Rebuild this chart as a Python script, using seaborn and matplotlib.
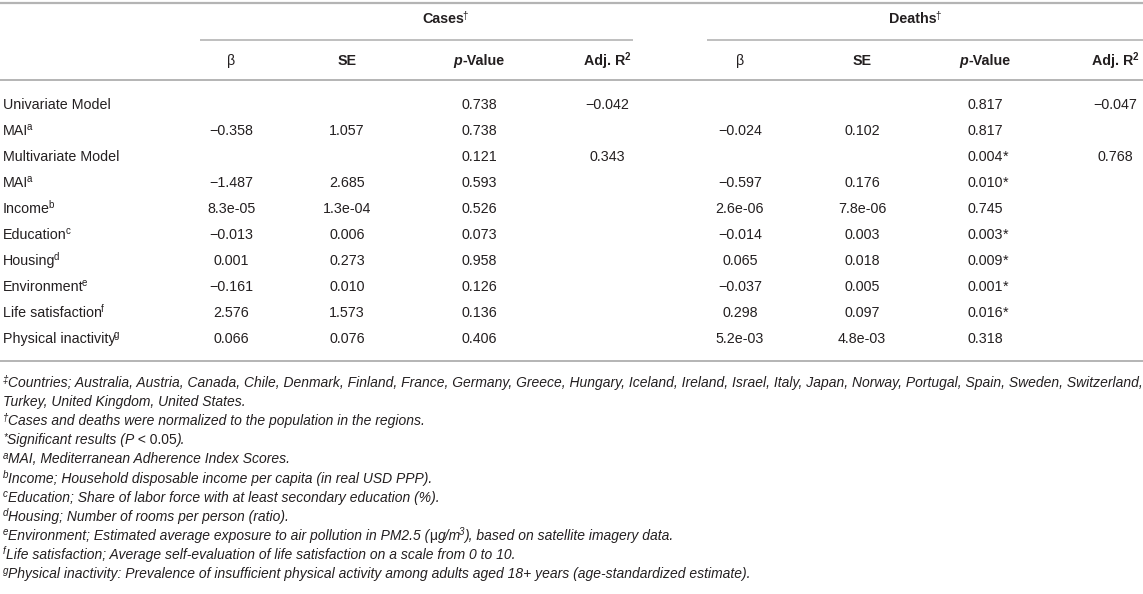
import matplotlib
matplotlib.use("Agg")
import matplotlib.pyplot as plt
import seaborn as sns
from matplotlib.font_manager import FontProperties

# ---------------- data ----------------
row_labels = ["Univariate Model", "MAI", "Multivariate Model", "MAI", "Income",
              "Education", "Housing", "Environment", "Life satisfaction",
              "Physical inactivity"]
row_sups = ["", "a", "", "a", "b", "c", "d", "e", "f", "g"]

cases_beta = ["", "−0.358", "", "−1.487", "8.3e-05", "−0.013", "0.001", "−0.161", "2.576", "0.066"]
cases_se = ["", "1.057", "", "2.685", "1.3e-04", "0.006", "0.273", "0.010", "1.573", "0.076"]
cases_p = ["0.738", "0.738", "0.121", "0.593", "0.526", "0.073", "0.958", "0.126", "0.136", "0.406"]
cases_r2 = ["−0.042", "", "0.343", "", "", "", "", "", "", ""]

deaths_beta = ["", "−0.024", "", "−0.597", "2.6e-06", "−0.014", "0.065", "−0.037", "0.298", "5.2e-03"]
deaths_se = ["", "0.102", "", "0.176", "7.8e-06", "0.003", "0.018", "0.005", "0.097", "4.8e-03"]
deaths_p = ["0.817", "0.817", "0.004*", "0.010*", "0.745", "0.003*", "0.009*", "0.001*", "0.016*", "0.318"]
deaths_r2 = ["−0.047", "", "0.768", "", "", "", "", "", "", ""]

group_titles = ["Cases", "Deaths"]
col_titles = ["β", "SE", "p-Value", "Adj. R2"]

footnotes = [
    [("‡", "sup"), ("Countries; Australia, Austria, Canada, Chile, Denmark, Finland, France, Germany, Greece, Hungary, Iceland, Ireland, Israel, Italy, Japan, Norway, Portugal, Spain, Sweden, Switzerland,", "it")],
    [("Turkey, United Kingdom, United States.", "it")],
    [("†", "sup"), ("Cases and deaths were normalized to the population in the regions.", "it")],
    [("*", "sup"), ("Significant results (", "it"), ("P", "it"), (" < 0.05", "rm"), (").", "it")],
    [("a", "sup"), ("MAI, Mediterranean Adherence Index Scores.", "it")],
    [("b", "sup"), ("Income; Household disposable income per capita (in real USD PPP).", "it")],
    [("c", "sup"), ("Education; Share of labor force with at least secondary education (%).", "it")],
    [("d", "sup"), ("Housing; Number of rooms per person (ratio).", "it")],
    [("e", "sup"), ("Environment; Estimated average exposure to air pollution in PM2.5 (", "it"), ("μ", "rm"), ("g/m", "it"), ("3", "sup"), ("), based on satellite imagery data.", "it")],
    [("f", "sup"), ("Life satisfaction; Average self-evaluation of life satisfaction on a scale from 0 to 10.", "it")],
    [("g", "sup"), ("Physical inactivity: Prevalence of insufficient physical activity among adults aged 18+ years (age-standardized estimate).", "it")],
]

# ---------------- style ----------------
sns.set_theme(style="white")
plt.rcParams["font.family"] = ["Liberation Sans", "DejaVu Sans"]

W, H = 1143, 594
TXT = "#231f20"
RULE = "#b4b4b4"
FS = 10.3
FS_NOTE = 10.0
SUP_FS = 7.0
SUP_DY = -4.5

fig = plt.figure(figsize=(W / 100, H / 100), dpi=100)
ax = fig.add_axes([0, 0, 1, 1])
ax.set_xlim(0, W)
ax.set_ylim(H, 0)
ax.axis("off")
renderer = fig.canvas.get_renderer()


def fp(size=FS, weight="normal", style="normal"):
    return FontProperties(family=["Liberation Sans", "DejaVu Sans"], size=size,
                          weight=weight, style=style)


def text_width(s, prop):
    w1, _, _ = renderer.get_text_width_height_descent("|" + s + "|", prop, False)
    w0, _, _ = renderer.get_text_width_height_descent("||", prop, False)
    return w1 - w0


def draw_runs(x, y, runs, ha="left"):
    """runs: list of (string, FontProperties, dy). Superscripts are tucked in."""
    widths = []
    for k, (s, p, dy) in enumerate(runs):
        w = text_width(s, p)
        if k + 1 < len(runs) and runs[k + 1][2] != 0 and dy == 0:
            w -= 1.5
        widths.append(w)
    total = sum(widths)
    if ha == "center":
        x0 = x - total / 2
    elif ha == "right":
        x0 = x - total
    else:
        x0 = x
    for (s, p, dy), w in zip(runs, widths):
        ax.text(x0, y + dy, s, fontproperties=p, color=TXT, ha="left", va="baseline")
        x0 += w
    return total


# ---------------- rules ----------------
ax.plot([0, W], [3, 3], color=RULE, lw=1.6, solid_capstyle="butt")
ax.plot([200, 633], [40, 40], color=RULE, lw=1.2, solid_capstyle="butt")
ax.plot([707, W], [40, 40], color=RULE, lw=1.2, solid_capstyle="butt")
ax.plot([0, W], [80, 80], color=RULE, lw=1.4, solid_capstyle="butt")
ax.plot([0, W], [361, 361], color=RULE, lw=1.4, solid_capstyle="butt")

# ---------------- headers ----------------
group_x = [445, 915]
for gx, g in zip(group_x, group_titles):
    draw_runs(gx, 23, [(g, fp(weight="bold"), 0), ("†", fp(size=SUP_FS), SUP_DY)], ha="center")

case_x = [231, 347, 479, 607]
death_x = [740, 862, 985, 1115]
header_y = 65
for cols in (case_x, death_x):
    draw_runs(cols[0], header_y, [(col_titles[0], fp(), 0)], ha="center")
    draw_runs(cols[1], header_y, [(col_titles[1], fp(weight="bold"), 0)], ha="center")
    pv = col_titles[2]
    draw_runs(cols[2], header_y, [(pv[0], fp(weight="bold", style="italic"), 0),
                                  (pv[1:], fp(weight="bold"), 0)], ha="center")
    ar = col_titles[3]
    draw_runs(cols[3], header_y, [(ar[:-1], fp(weight="bold"), 0),
                                  (ar[-1], fp(size=SUP_FS, weight="bold"), SUP_DY)], ha="center")

# ---------------- body ----------------
row_y0, row_dy = 109, 26
cols_data = [(case_x, [cases_beta, cases_se, cases_p, cases_r2]),
             (death_x, [deaths_beta, deaths_se, deaths_p, deaths_r2])]
for i, (lab, sup) in enumerate(zip(row_labels, row_sups)):
    y = row_y0 + i * row_dy
    runs = [(lab, fp(), 0)]
    if sup:
        runs.append((sup, fp(size=SUP_FS), SUP_DY))
    draw_runs(3, y, runs)
    for xs, series in cols_data:
        for cx, vals in zip(xs, series):
            v = vals[i]
            if not v:
                continue
            if v.endswith("*"):
                num = v[:-1]
                w = text_width(num, fp())
                draw_runs(cx - w / 2, y, [(num, fp(), 0), ("*", fp(), 0)])
            else:
                draw_runs(cx, y, [(v, fp(), 0)], ha="center")

# ---------------- footnotes ----------------
note_y0, note_dy = 387, 19.1
for i, line in enumerate(footnotes):
    y = note_y0 + i * note_dy
    runs = []
    for s, kind in line:
        if kind == "sup":
            runs.append((s, fp(size=SUP_FS, style="italic"), SUP_DY))
        elif kind == "rm":
            runs.append((s, fp(size=FS_NOTE), 0))
        else:
            runs.append((s, fp(size=FS_NOTE, style="italic"), 0))
    draw_runs(3, y, runs)

fig.savefig("out.png", dpi=100)
